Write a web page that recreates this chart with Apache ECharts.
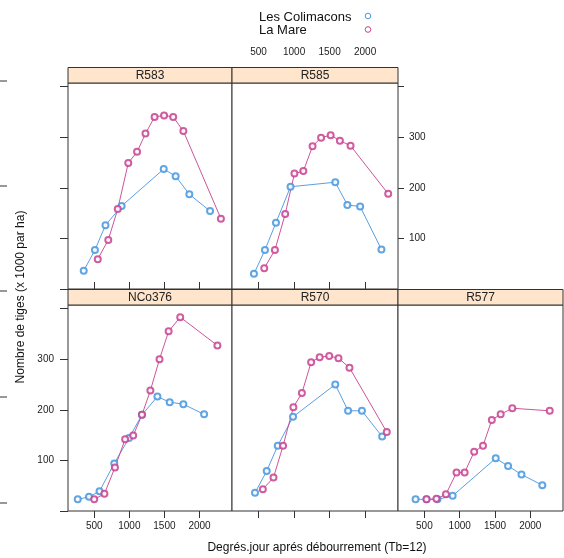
<!DOCTYPE html>
<html lang="fr">
<head>
<meta charset="UTF-8">
<title>Nombre de tiges</title>
<script src="https://cdn.jsdelivr.net/npm/echarts@6/dist/echarts.min.js"></script>
<style>
    html, body { margin: 0; padding: 0; background: #fff; }
    #chart { width: 564px; height: 558px; }
</style>
</head>
<body>
<div id="chart"></div>
<script>
// panneaux (ordre : haut gauche, haut milieu, bas gauche, bas milieu, bas droite)
var panels = ['R583', 'R585', 'NCo376', 'R570', 'R577'];
var seriesNames = ['Les Colimacons', 'La Mare'];
var xTicks = [500, 1000, 1500, 2000];
var yLabels = [100, 200, 300];
var yTicks = [0, 100, 200, 300, 400];

// [degres jour, nombre de tiges]
var r583Col = [[350, 36], [510, 77], [660, 126], [890, 164], [1490, 237], [1660, 223], [1855, 187], [2150, 154]];
var r583Mare = [[550, 59], [700, 97], [835, 158], [985, 249], [1110, 271], [1230, 307], [1360, 340], [1495, 343], [1625, 340], [1770, 312], [2305, 139]];
var r585Col = [[435, 30], [590, 77], [745, 131], [950, 202], [1580, 211], [1750, 166], [1930, 163], [2230, 78]];
var r585Mare = [[580, 41], [730, 77], [875, 148], [1005, 228], [1130, 233], [1260, 282], [1380, 299], [1515, 304], [1645, 293], [1795, 283], [2325, 188]];
var nco376Col = [[265, 23], [425, 28], [575, 39], [785, 94], [995, 144], [1180, 190], [1400, 226], [1575, 215], [1770, 211], [2065, 191]];
var nco376Mare = [[500, 23], [645, 34], [795, 86], [940, 142], [1055, 149], [1180, 190], [1300, 238], [1430, 300], [1560, 355], [1725, 383], [2255, 327]];
var r570Col = [[450, 36], [615, 79], [770, 129], [985, 186], [1580, 250], [1760, 198], [1955, 198], [2240, 147]];
var r570Mare = [[560, 43], [710, 66], [845, 129], [990, 205], [1110, 233], [1240, 294], [1360, 304], [1495, 306], [1625, 302], [1780, 283], [2305, 156]];
var r577Col = [[375, 23], [530, 23], [685, 23], [900, 30], [1510, 104], [1685, 89], [1875, 72], [2170, 51]];
var r577Mare = [[530, 23], [670, 24], [805, 33], [955, 76], [1070, 76], [1205, 117], [1330, 129], [1455, 180], [1580, 191], [1745, 203], [2275, 198]];

var panelData = [
    [r583Col, r583Mare],
    [r585Col, r585Mare],
    [nco376Col, nco376Mare],
    [r570Col, r570Mare],
    [r577Col, r577Mare]
];

var colors = ['#4795de', '#c8418f'];
var dark = '#333';
var font = 'Liberation Sans, Arial, sans-serif';

// position des panneaux : [gauche, haut, largeur, hauteur]
var boxes = [
    [68, 83, 164, 206],
    [232, 83, 166, 206],
    [68, 305, 164, 206],
    [232, 305, 166, 206],
    [398, 305, 165, 206]
];
var stripH = 15.5;

// axes : x en haut ou en bas, avec ou sans etiquettes ; y a gauche / droite
var xPos = ['top', 'top', 'bottom', 'bottom', 'bottom'];
var xShowLabel = [false, true, true, false, true];
var yPos = ['left', 'right', 'left', 'left', 'right'];
var yShowTick = [true, true, true, false, false];
var yShowLabel = [false, true, true, false, false];

var grids = [], xAxes = [], yAxes = [], series = [], graphics = [];

boxes.forEach(function (b, i) {
    grids.push({
        left: b[0], top: b[1], width: b[2], height: b[3],
        show: true, borderColor: dark, borderWidth: 1, backgroundColor: '#fff'
    });
    xAxes.push({
        gridIndex: i, type: 'value', min: 126, max: 2463,
        position: xPos[i],
        offset: xPos[i] === 'top' ? stripH : 0,
        axisLine: { show: false },
        axisTick: { show: true, length: 7, customValues: xTicks, lineStyle: { color: dark } },
        axisLabel: {
            show: xShowLabel[i], customValues: xTicks, margin: 10,
            fontSize: 10, color: '#222', fontFamily: font,
            formatter: function (v) { return String(v); }
        },
        splitLine: { show: false }
    });
    yAxes.push({
        gridIndex: i, type: 'value', min: 0, max: 407,
        position: yPos[i],
        axisLine: { show: false },
        axisTick: { show: yShowTick[i], length: yPos[i] === 'left' ? 8 : 6, customValues: yTicks, lineStyle: { color: dark } },
        axisLabel: {
            show: yShowLabel[i], customValues: yLabels, margin: yPos[i] === 'left' ? 14 : 11,
            fontSize: 10, color: '#222', fontFamily: font
        },
        splitLine: { show: false }
    });
    panelData[i].forEach(function (d, k) {
        series.push({
            name: seriesNames[k],
            type: 'line',
            xAxisIndex: i, yAxisIndex: i,
            data: d,
            symbol: 'emptyCircle',
            symbolSize: 6,
            color: colors[k],
            lineStyle: { width: 1, color: colors[k], opacity: 0.9 },
            itemStyle: { color: colors[k], borderWidth: 1, opacity: 0.85 },
            animation: false
        });
    });
    // bandeau du panneau
    graphics.push({
        type: 'rect',
        shape: { x: b[0], y: b[1] - stripH, width: b[2], height: stripH },
        style: { fill: '#ffe5cc', stroke: dark, lineWidth: 1 }
    });
    graphics.push({
        type: 'text',
        x: b[0] + b[2] / 2, y: b[1] - stripH / 2,
        style: {
            text: panels[i], fill: '#222', font: '12px ' + font,
            align: 'center', verticalAlign: 'middle'
        }
    });
});

// legende : texte puis cercle
seriesNames.forEach(function (name, k) {
    var y = 17 + k * 13.5;
    graphics.push({
        type: 'text', x: 259, y: y,
        style: { text: name, fill: '#111', font: '13px ' + font, align: 'left', verticalAlign: 'middle' }
    });
    graphics.push({
        type: 'circle', shape: { cx: 368, cy: y - 1, r: 2.8 },
        style: { fill: 'none', stroke: colors[k], lineWidth: 1 }
    });
});

// titres des axes
graphics.push({
    type: 'text', x: 317, y: 548,
    style: {
        text: 'Degrés.jour aprés débourrement (Tb=12)', fill: '#111',
        font: '12px ' + font, align: 'center', verticalAlign: 'middle'
    }
});
graphics.push({
    type: 'text', x: 21, y: 297, rotation: Math.PI / 2,
    style: {
        text: 'Nombre de tiges (x 1000 par ha)', fill: '#111',
        font: '12px ' + font, align: 'center', verticalAlign: 'middle'
    }
});
// petits traits au bord gauche
[81, 186, 291, 397, 503].forEach(function (y) {
    graphics.push({
        type: 'line', shape: { x1: 0, y1: y, x2: 7, y2: y },
        style: { stroke: dark, lineWidth: 1 }
    });
});

var chart = echarts.init(document.getElementById('chart'));
chart.setOption({
    animation: false,
    backgroundColor: '#fff',
    grid: grids,
    xAxis: xAxes,
    yAxis: yAxes,
    series: series,
    graphic: graphics
});
</script>
</body>
</html>
